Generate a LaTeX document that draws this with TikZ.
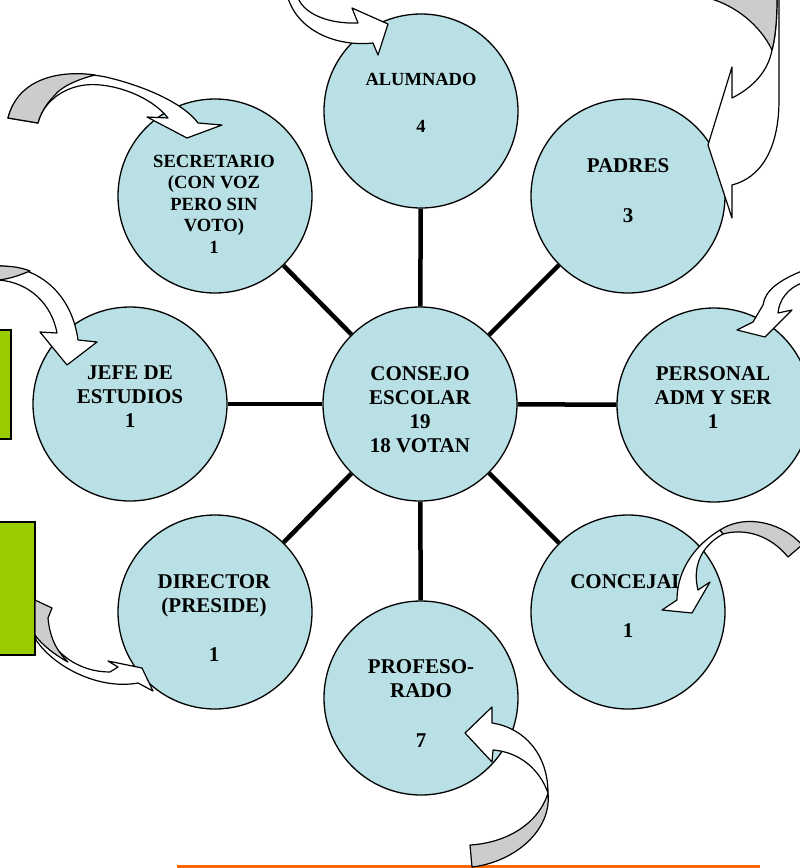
\documentclass[tikz,border=0pt]{standalone}
\usepackage{fontspec}
\setmainfont{Liberation Serif}
\definecolor{circfill}{HTML}{B9E0E4}
\definecolor{boxgreen}{HTML}{99CC00}
\definecolor{boxorange}{HTML}{FF6600}
\definecolor{ribbongray}{HTML}{CCCCCC}
\begin{document}
\begin{tikzpicture}[x=1pt,y=-1pt,
  circ/.style={circle, draw=black, line width=1.3pt, fill=circfill, minimum size=194pt, inner sep=0pt},
  spoke/.style={line width=4.5pt},
  lbl/.style={align=center, inner sep=0pt, anchor=north, font=\bfseries\fontsize{21}{24}\selectfont},
  lblsec/.style={lbl, font=\bfseries\fontsize{18.6}{21.5}\selectfont},
  lblalu/.style={lbl, font=\bfseries\fontsize{18.5}{23.5}\selectfont},
  ribbon/.style={draw=black, line width=1.2pt, line join=round, fill=white},
  ribbonback/.style={ribbon, fill=ribbongray},
  sidebox/.style={draw=black, line width=1.3pt, fill=boxgreen},
  bottombox/.style={draw=boxorange, line width=3pt}
]
\useasboundingbox (0,0) rectangle (800,868);
\clip (0,0) rectangle (800,868);

% side boxes
\path[sidebox] (-10,330) rectangle (11,439);
\path[sidebox] (-10,522) rectangle (35,655);
\path[bottombox] (178,866) rectangle (758,900);

% circles
\node[circ] (cons) at (420,404) {};
\node[circ] (alum) at (421,111) {};
\node[circ] (padr) at (628,196) {};
\node[circ] (secr) at (215,196) {};
\node[circ] (jefe) at (130,404) {};
\node[circ] (pers) at (714,405) {};
\node[circ] (dire) at (215,612) {};
\node[circ] (conc) at (628,612) {};
\node[circ] (prof) at (421,698) {};

% spokes
\foreach \n in {alum,padr,secr,jefe,pers,dire,conc,prof}
  \draw[spoke] (cons) -- (\n);

% labels
\node[lbl] (tcons) at (420,366) {CONSEJO\\ESCOLAR\\19\\18 VOTAN};
\node[lblalu] (talum) at (421,72.8) {ALUMNADO\\[23.5pt]4};
\node[lbl] (tpadr) at (628,158) {PADRES\\[26pt]3};
\node[lblsec] (tsecr) at (214,154.7) {SECRETARIO\\(CON VOZ\\PERO SIN\\VOTO)\\1};
\node[lbl] (tjefe) at (130,366) {JEFE DE\\ESTUDIOS\\1};
\node[lbl] (tpers) at (713,366) {PERSONAL\\ADM Y SER\\1};
\node[lbl] (tdire) at (214,574) {DIRECTOR\\(PRESIDE)\\[25pt]1};
\node[lbl] (tconc) at (628,574) {CONCEJAL\\[25pt]1};
\node[lbl] (tprof) at (421,659) {PROFESO-\\RADO\\[26pt]7};

% ribbon arrows
% ALUMNADO
\path[ribbon] (298,-2) .. controls (305,15) and (330,24) .. (358,23) -- (352,8) -- (388,24) -- (378,55) -- (373,43)
  .. controls (335,47) and (298,30) .. (288,-2) -- cycle;
% SECRETARIO
\path[ribbon] (8,118) .. controls (18,78) and (70,68) .. (110,78) .. controls (150,88) and (185,105) .. (198,123)
  -- (222,125) -- (187,138) -- (147,117) -- (168,118)
  .. controls (150,95) and (110,82) .. (85,85) .. controls (60,88) and (42,105) .. (38,123) -- cycle;
\path[ribbonback] (8,118) .. controls (18,78) and (60,70) .. (95,75) .. controls (75,80) and (60,88) .. (55,95)
  .. controls (45,105) and (40,115) .. (38,123) -- cycle;
% PADRES
\path[ribbon] (779,-2) -- (779,100) .. controls (779,150) and (760,178) .. (732,185) -- (732,218) -- (708,145) -- (732,67) -- (732,98)
  .. controls (752,88) and (768,72) .. (772,50) .. controls (776,35) and (777,15) .. (777,-2) -- cycle;
\path[ribbonback] (708,-2) .. controls (735,5) and (760,25) .. (772,50) .. controls (776,35) and (777,15) .. (777,-2) -- cycle;
% PERSONAL
\path[ribbon] (802,271) .. controls (780,280) and (765,290) .. (763,305) -- (753,322) -- (737,330) -- (765,337) -- (792,310) -- (778,313)
  .. controls (779,300) and (788,288) .. (802,283) -- cycle;
% JEFE DE ESTUDIOS
\path[ribbon] (-2,266) .. controls (40,266) and (72,295) .. (78,340) -- (97,342) -- (67,365) -- (40,332) -- (57,333)
  .. controls (52,305) and (30,282) .. (-2,280) -- cycle;
\path[ribbonback] (-2,266) .. controls (10,266) and (20,267) .. (30,271) .. controls (20,275) and (10,279) .. (-2,280) -- cycle;
% DIRECTOR
\path[ribbon] (36,612) .. controls (50,655) and (80,672) .. (110,672) -- (118,667) -- (108,661) -- (142,668) -- (153,691) -- (138,683)
  .. controls (100,690) and (55,668) .. (36,640) -- cycle;
\path[ribbonback] (35,600) -- (52,608) -- (48,618) .. controls (50,640) and (58,652) .. (68,662)
  .. controls (55,655) and (42,645) .. (35,635) -- cycle;
% CONCEJAL
\path[ribbon] (720,530) .. controls (695,545) and (677,570) .. (677,600) -- (662,610) -- (692,613) -- (710,582) -- (698,590)
  .. controls (693,570) and (698,548) .. (723,534) -- cycle;
\path[ribbonback] (720,530) .. controls (748,512) and (785,525) .. (802,545) -- (788,557)
  .. controls (770,535) and (745,528) .. (723,534) -- cycle;
% PROFESORADO
\path[ribbon] (492,723) .. controls (525,728) and (548,755) .. (548,793) .. controls (540,770) and (520,752) .. (493,750)
  -- (492,762) -- (465,733) -- (492,707) -- cycle;
\path[ribbonback] (548,793) .. controls (552,830) and (515,862) .. (472,867) -- (470,845)
  .. controls (505,843) and (538,825) .. (548,793) -- cycle;
\end{tikzpicture}
\end{document}
